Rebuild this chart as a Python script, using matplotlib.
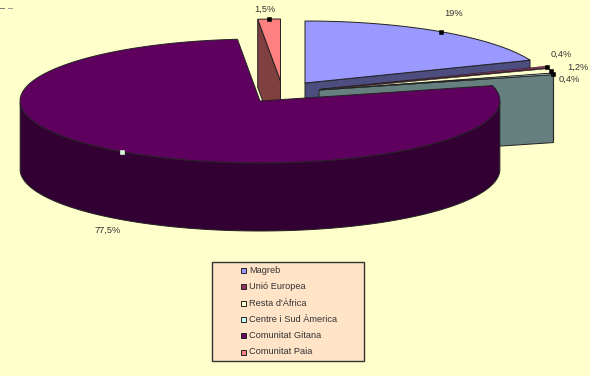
import numpy as np
import matplotlib
matplotlib.use('Agg')
import matplotlib.pyplot as plt
from matplotlib.patches import Rectangle

plt.rcParams['font.family'] = ['Liberation Sans', 'DejaVu Sans']

categories = ['Magreb', 'Unió Europea', "Resta d'Àfrica", 'Centre i Sud Àmerica', 'Comunitat Gitana', 'Comunitat Paia']
values = [19, 0.4, 1.2, 0.4, 77.5, 1.5]
value_labels = ['19%', '0,4%', '1,2%', '0,4%', '77,5%', '1,5%']

top_colors = ['#9999FF', '#993366', '#FFFFCC', '#CCFFFF', '#5F005F', '#FF8080']
side_colors = ['#4D4D80', '#4D1A33', '#808066', '#668080', '#330033', '#804040']
legend_colors = ['#9999FF', '#993366', '#FFFFCC', '#CCFFFF', '#660066', '#FF8080']
marker_colors = ['black', 'black', 'black', 'black', '#CCFFCC', 'black']

# centre and radius of each exploded slice, in pixels
centers = [(305, 83), (321, 89), (321, 90), (319, 90), (260, 101), (280.5, 81)]
radii = [242, 242, 242, 242, 240, 242]
edge_widths = [0.7, 0.4, 0.4, 0.7, 0.7, 0.7]
label_offsets = [(13, -18), (14, -13), (27, -4), (17, 5), (-14, 79), (-4, -10)]

RY, DEPTH = 62, 68
BG = '#FFFFCC'
LINE = '#222222'

fig = plt.figure(figsize=(5.9, 3.76), dpi=100, facecolor=BG)
ax = fig.add_axes([0, 0, 1, 1])
ax.set_xlim(0, 590)
ax.set_ylim(376, 0)
ax.axis('off')


def rim(center, rx, t):
    t = np.radians(t)
    return center[0] + rx * np.cos(t), center[1] - RY * np.sin(t)


def draw_slice(center, rx, start, end, top, side, lw):
    ts = np.linspace(start, end, 120)
    x, y = rim(center, rx, ts)

    # cut faces, only those turned to the viewer
    for t, visible in ((start, np.cos(np.radians(start)) < -1e-6), (end, np.cos(np.radians(end)) > 1e-6)):
        if visible:
            px, py = rim(center, rx, t)
            ax.fill([center[0], px, px, center[0]], [center[1], py, py + DEPTH, center[1] + DEPTH],
                    fc=side, ec=LINE, lw=lw)

    # outer wall, front half only
    front = np.sin(np.radians(ts)) <= 0
    if front.any():
        fx, fy = x[front], y[front]
        ax.fill(np.r_[fx, fx[::-1]], np.r_[fy, fy[::-1] + DEPTH], fc=side, ec=LINE, lw=lw)

    ax.fill(np.r_[center[0], x], np.r_[center[1], y], fc=top, ec=LINE, lw=lw)


starts = 90 - np.r_[0, np.cumsum(values)[:-1]] * 3.6
ends = starts - np.array(values) * 3.6

for i in [0, 1, 2, 3, 5, 4]:
    draw_slice(centers[i], radii[i], starts[i], ends[i], top_colors[i], side_colors[i], edge_widths[i])

for i in range(len(values)):
    mx, my = rim(centers[i], radii[i], (starts[i] + ends[i]) / 2)
    ax.plot(mx, my, 's', ms=3, mfc=marker_colors[i], mec='black' if i != 4 else 'white', mew=0.4, zorder=5)
    ax.text(mx + label_offsets[i][0], my + label_offsets[i][1], value_labels[i], fontsize=6.7,
            color='#333333', ha='center', va='center', zorder=6)

# legend
ax.add_patch(Rectangle((212, 262), 152, 99, fc='#FFE4C8', ec='#333333', lw=1))
rows = [270.7, 286.7, 303, 319, 335, 352]
for name, color, y in zip(categories, legend_colors, rows):
    ax.add_patch(Rectangle((240.5, y - 2.5), 5, 5, fc=color, ec='#222222', lw=0.7))
    ax.text(249, y, name, fontsize=6.7, color='#333333', va='center', ha='left')

# small stray mark at the top corner
ax.plot([0, 4], [7.5, 7.5], color='#777777', lw=0.7)
ax.plot([8, 12], [7.5, 7.5], color='#999999', lw=0.7)

fig.savefig('out.png', dpi=100, facecolor=BG)
